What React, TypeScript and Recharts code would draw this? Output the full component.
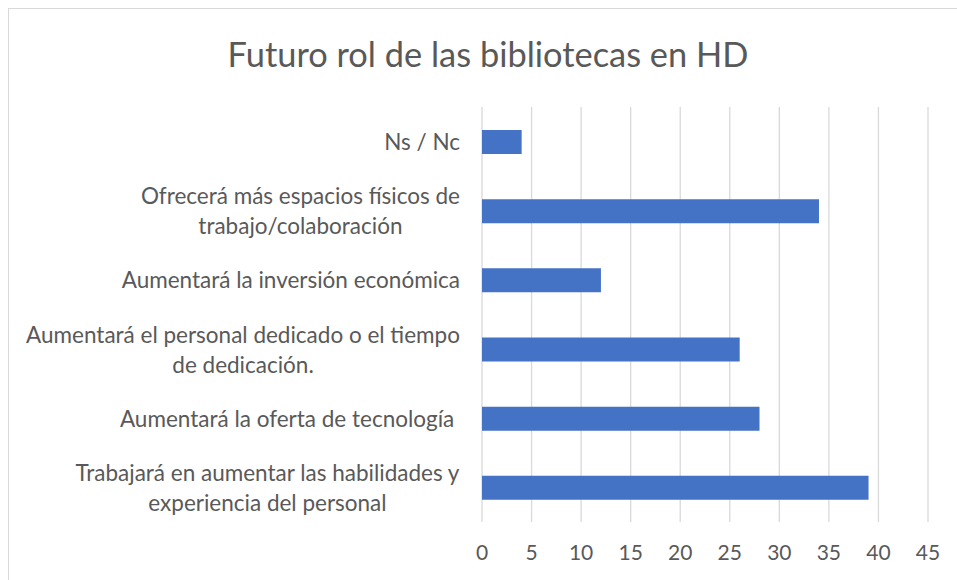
import React from 'react';
import { Bar, BarChart, CartesianGrid, XAxis, YAxis } from 'recharts';

const title = 'Futuro rol de las bibliotecas en HD';

const categories = [
  'Ns / Nc',
  'Ofrecerá más espacios físicos de\ntrabajo/colaboración',
  'Aumentará la inversión económica',
  'Aumentará el personal dedicado o el tiempo\nde dedicación.',
  'Aumentará la oferta de tecnología ',
  'Trabajará en aumentar las habilidades y\nexperiencia del personal'
];

const values = [4, 34, 12, 26, 28, 39];

const xTicks = [0, 5, 10, 15, 20, 25, 30, 35, 40, 45];

const data = categories.map((name, i) => ({ name, value: values[i] }));

const FONT = 'Lato, "Open Sans", sans-serif';
const LABEL_SIZE = 22.5;
const TEXT_COLOR = '#595959';

let canvas: HTMLCanvasElement | null = null;
const measure = (s: string) => {
  if (!canvas) canvas = document.createElement('canvas');
  const ctx = canvas.getContext('2d')!;
  ctx.font = `${LABEL_SIZE}px Lato`;
  return ctx.measureText(s).width;
};

const CategoryTick = (props: any) => {
  const { x, y, payload } = props;
  const lines: string[] = String(payload.value).split('\n');
  const right = x - 22;
  if (lines.length === 1) {
    return (
      <text
        x={right}
        y={y}
        textAnchor="end"
        dominantBaseline="central"
        fill={TEXT_COLOR}
        fontSize={LABEL_SIZE}
        fontFamily={FONT}
        style={{ whiteSpace: 'pre' }}
      >
        {lines[0]}
      </text>
    );
  }
  const w = Math.max(...lines.map(measure));
  const cx = right - w / 2;
  return (
    <g>
      {lines.map((l, i) => (
        <text
          key={i}
          x={cx}
          y={y + (i - (lines.length - 1) / 2) * 30}
          textAnchor="middle"
          dominantBaseline="central"
          fill={TEXT_COLOR}
          fontSize={LABEL_SIZE}
          fontFamily={FONT}
        >
          {l}
        </text>
      ))}
    </g>
  );
};

export default function App() {
  return (
    <div
      style={{
        position: 'absolute',
        left: 0,
        top: 0,
        width: 957,
        height: 580,
        overflow: 'hidden',
        background: '#fff'
      }}
    >
      <div
        style={{
          position: 'absolute',
          left: 8,
          top: 8,
          width: 1000,
          height: 700,
          borderLeft: '1px solid #d9d9d9',
          borderTop: '1px solid #d9d9d9'
        }}
      />
      <BarChart
        width={957}
        height={580}
        data={data}
        layout="vertical"
        margin={{ top: 107, right: 29, bottom: 0, left: 0 }}
        style={{ position: 'absolute', left: 0, top: 0 }}
      >
        <text
          x={488}
          y={53}
          textAnchor="middle"
          dominantBaseline="central"
          fill={TEXT_COLOR}
          fontSize={34.4}
          fontFamily={FONT}
        >
          {title}
        </text>
        <CartesianGrid horizontal={false} stroke="#d9d9d9" strokeWidth={1.3} />
        <XAxis
          type="number"
          domain={[0, 45]}
          ticks={xTicks}
          interval={0}
          axisLine={false}
          tickLine={false}
          tickSize={0}
          tickMargin={23}
          height={58}
          tick={{ fill: TEXT_COLOR, fontSize: 21, fontFamily: FONT }}
        />
        <YAxis
          type="category"
          dataKey="name"
          width={482}
          axisLine={false}
          tickLine={false}
          tickSize={0}
          tickMargin={0}
          interval={0}
          tick={<CategoryTick />}
        />
        <Bar dataKey="value" fill="#4472C4" barSize={24} isAnimationActive={false} />
      </BarChart>
    </div>
  );
}
